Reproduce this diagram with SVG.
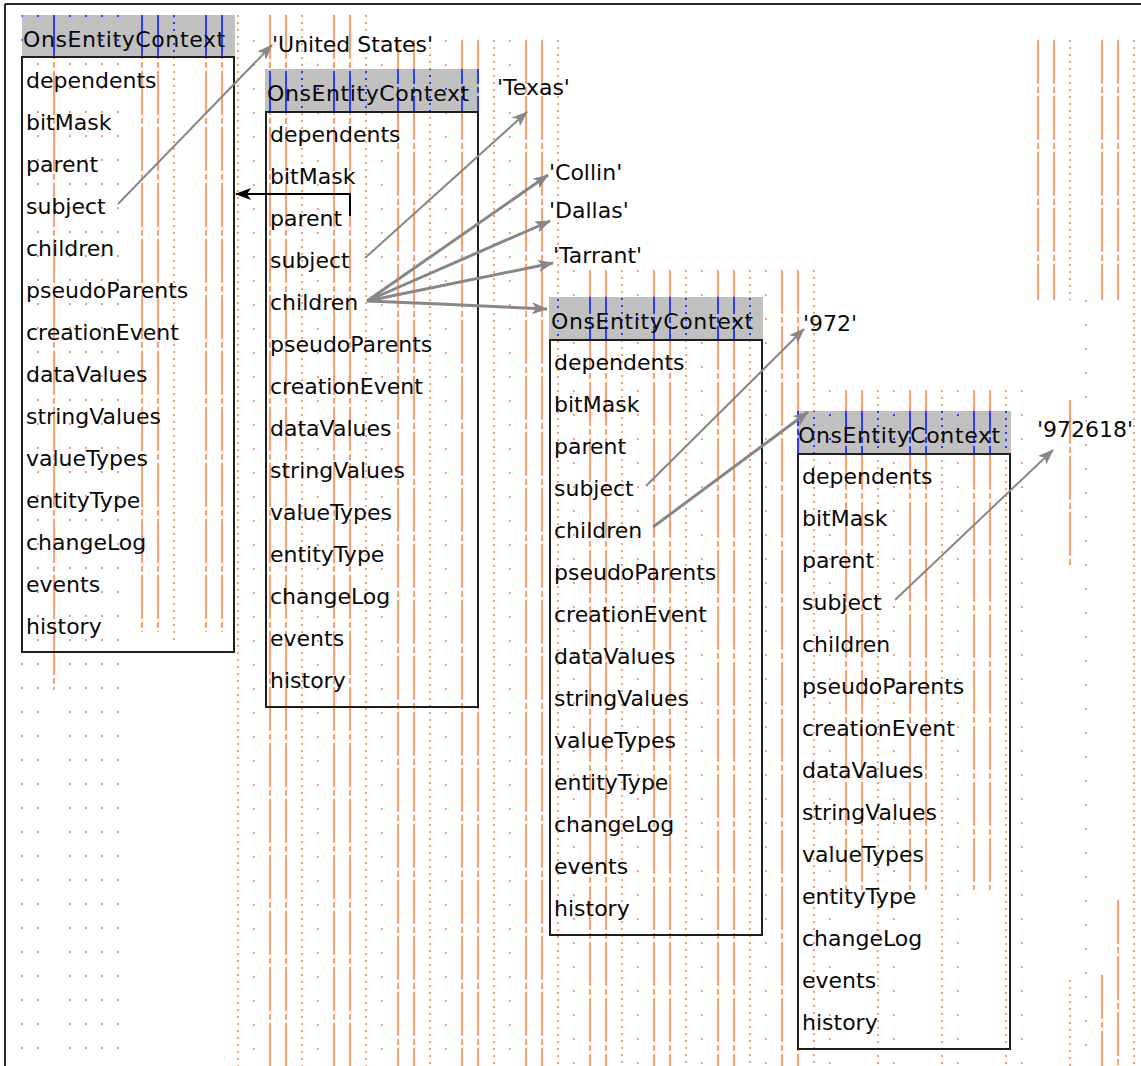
<svg xmlns="http://www.w3.org/2000/svg" width="1141" height="1066" viewBox="0 0 1141 1066">
  <style>
    .hdr{fill:#c0c0c0}
    .body{fill:none;stroke:#1e1e1e;stroke-width:2}
    text{font-family:"DejaVu Sans","Liberation Sans",sans-serif;font-size:22px;fill:#0a0a0a}
    .ttl{letter-spacing:0.6px}
    .ref{fill:none;stroke:#878787;stroke-width:2}
    .ref.thick{stroke-width:3}
    .own{fill:none;stroke:#000;stroke-width:2}
    .frame{fill:none;stroke:#2a2a2a;stroke-width:2}
  </style>
  <defs>
    <!-- backdrop column rules; colour comes from the referencing element -->
    <g id="cols" stroke="currentColor" stroke-width="2" fill="none">
      <g stroke-dasharray="44 3 6 3">
        <line x1="54" y1="15" x2="54" y2="690"/>
        <line x1="142" y1="15" x2="142" y2="632"/>
        <line x1="158" y1="15" x2="158" y2="632"/>
        <line x1="206" y1="15" x2="206" y2="632"/>
        <line x1="222" y1="15" x2="222" y2="632"/>
        <line x1="270" y1="15" x2="270" y2="1066"/>
        <line x1="286" y1="15" x2="286" y2="1066"/>
        <line x1="334" y1="15" x2="334" y2="1066"/>
        <line x1="350" y1="15" x2="350" y2="1066"/>
        <line x1="398" y1="40" x2="398" y2="1066"/>
        <line x1="414" y1="40" x2="414" y2="1066"/>
        <line x1="462" y1="40" x2="462" y2="1066"/>
        <line x1="478" y1="40" x2="478" y2="1066"/>
        <line x1="526" y1="40" x2="526" y2="1066"/>
        <line x1="542" y1="40" x2="542" y2="1066"/>
        <line x1="590" y1="270" x2="590" y2="1066"/>
        <line x1="606" y1="270" x2="606" y2="1066"/>
        <line x1="654" y1="270" x2="654" y2="1066"/>
        <line x1="670" y1="270" x2="670" y2="1066"/>
        <line x1="718" y1="270" x2="718" y2="1066"/>
        <line x1="734" y1="270" x2="734" y2="1066"/>
        <line x1="782" y1="270" x2="782" y2="1066"/>
        <line x1="798" y1="270" x2="798" y2="1066"/>
        <line x1="846" y1="390" x2="846" y2="890"/>
        <line x1="862" y1="390" x2="862" y2="890"/>
        <line x1="910" y1="390" x2="910" y2="890"/>
        <line x1="926" y1="390" x2="926" y2="890"/>
        <line x1="974" y1="390" x2="974" y2="890"/>
        <line x1="990" y1="390" x2="990" y2="890"/>
        <line x1="1038" y1="40" x2="1038" y2="300"/>
        <line x1="1054" y1="40" x2="1054" y2="300"/>
        <line x1="1102" y1="40" x2="1102" y2="300"/>
        <line x1="1118" y1="40" x2="1118" y2="300"/>
        <line x1="1070" y1="400" x2="1070" y2="565"/>
        <line x1="1102" y1="975" x2="1102" y2="1066"/>
        <line x1="1118" y1="900" x2="1118" y2="1066"/>
      </g>
      <g stroke-dasharray="2 5">
        <line x1="174" y1="15" x2="174" y2="640"/>
        <line x1="238" y1="15" x2="238" y2="1066"/>
        <line x1="302" y1="15" x2="302" y2="1066"/>
        <line x1="366" y1="15" x2="366" y2="1066"/>
        <line x1="430" y1="40" x2="430" y2="1066"/>
        <line x1="494" y1="40" x2="494" y2="1066"/>
        <line x1="558" y1="40" x2="558" y2="1066"/>
        <line x1="622" y1="270" x2="622" y2="1066"/>
        <line x1="686" y1="270" x2="686" y2="1066"/>
        <line x1="750" y1="270" x2="750" y2="1066"/>
        <line x1="814" y1="270" x2="814" y2="1066"/>
        <line x1="878" y1="390" x2="878" y2="1066"/>
        <line x1="942" y1="390" x2="942" y2="1066"/>
        <line x1="1006" y1="390" x2="1006" y2="1066"/>
        <line x1="1070" y1="40" x2="1070" y2="300"/>
        <line x1="1070" y1="980" x2="1070" y2="1066"/>
        <line x1="1134" y1="40" x2="1134" y2="1066"/>
      </g>
      <g stroke-dasharray="2 22">
        <line x1="22" y1="15" x2="22" y2="1066"/>
        <line x1="38" y1="15" x2="38" y2="1066"/>
        <line x1="70" y1="15" x2="70" y2="1066"/>
        <line x1="86" y1="15" x2="86" y2="1066"/>
        <line x1="102" y1="15" x2="102" y2="1066"/>
        <line x1="118" y1="15" x2="118" y2="1066"/>
        <line x1="254" y1="40" x2="254" y2="1066"/>
        <line x1="318" y1="40" x2="318" y2="1066"/>
        <line x1="382" y1="40" x2="382" y2="1066"/>
        <line x1="446" y1="40" x2="446" y2="1066"/>
        <line x1="510" y1="40" x2="510" y2="1066"/>
        <line x1="574" y1="270" x2="574" y2="1066"/>
        <line x1="638" y1="270" x2="638" y2="1066"/>
        <line x1="702" y1="270" x2="702" y2="1066"/>
        <line x1="766" y1="270" x2="766" y2="1066"/>
        <line x1="830" y1="390" x2="830" y2="1066"/>
        <line x1="894" y1="390" x2="894" y2="1066"/>
        <line x1="958" y1="390" x2="958" y2="1066"/>
        <line x1="1022" y1="390" x2="1022" y2="1066"/>
        <line x1="1086" y1="300" x2="1086" y2="1066"/>
      </g>
    </g>
    <clipPath id="clip1"><rect x="22" y="15" width="213" height="42"/></clipPath>
    <clipPath id="clip2"><rect x="265" y="69" width="214" height="43"/></clipPath>
    <clipPath id="clip3"><rect x="549" y="297" width="214" height="43"/></clipPath>
    <clipPath id="clip4"><rect x="797" y="411" width="214" height="43"/></clipPath>
    <marker id="ah" viewBox="0 0 16 12" refX="15" refY="6" markerWidth="16" markerHeight="12" markerUnits="userSpaceOnUse" orient="auto">
      <path d="M0,0 L16,6 L0,12 L4,6 z" fill="#878787"/>
    </marker>
    <marker id="ahk" viewBox="0 0 16 12" refX="15" refY="6" markerWidth="16" markerHeight="12" markerUnits="userSpaceOnUse" orient="auto">
      <path d="M0,0 L16,6 L0,12 L4,6 z" fill="#000"/>
    </marker>
  </defs>

  <rect width="1141" height="1066" fill="#fff"/>
  <use href="#cols" color="#ff9d6b"/>

  <g id="frame">
    <line class="frame" x1="5" y1="4" x2="1141" y2="4"/>
    <line class="frame" x1="5" y1="4" x2="5" y2="1066"/>
  </g>

  <g id="ctx1">
    <rect class="hdr" x="22" y="15" width="213" height="42"/>
    <use href="#cols" color="#2a3cff" clip-path="url(#clip1)"/>
    <rect class="body" x="22" y="57" width="212" height="595"/>
    <text class="ttl" x="23" y="47">OnsEntityContext</text>
    <text><tspan x="26" y="88">dependents</tspan><tspan x="26" dy="42">bitMask</tspan><tspan x="26" dy="42">parent</tspan><tspan x="26" dy="42">subject</tspan><tspan x="26" dy="42">children</tspan><tspan x="26" dy="42">pseudoParents</tspan><tspan x="26" dy="42">creationEvent</tspan><tspan x="26" dy="42">dataValues</tspan><tspan x="26" dy="42">stringValues</tspan><tspan x="26" dy="42">valueTypes</tspan><tspan x="26" dy="42">entityType</tspan><tspan x="26" dy="42">changeLog</tspan><tspan x="26" dy="42">events</tspan><tspan x="26" dy="42">history</tspan></text>
  </g>

  <g id="ctx2">
    <rect class="hdr" x="265" y="69" width="214" height="43"/>
    <use href="#cols" color="#2a3cff" clip-path="url(#clip2)"/>
    <rect class="body" x="266" y="112" width="212" height="595"/>
    <text class="ttl" x="267" y="101">OnsEntityContext</text>
    <text><tspan x="270" y="142">dependents</tspan><tspan x="270" dy="42">bitMask</tspan><tspan x="270" dy="42">parent</tspan><tspan x="270" dy="42">subject</tspan><tspan x="270" dy="42">children</tspan><tspan x="270" dy="42">pseudoParents</tspan><tspan x="270" dy="42">creationEvent</tspan><tspan x="270" dy="42">dataValues</tspan><tspan x="270" dy="42">stringValues</tspan><tspan x="270" dy="42">valueTypes</tspan><tspan x="270" dy="42">entityType</tspan><tspan x="270" dy="42">changeLog</tspan><tspan x="270" dy="42">events</tspan><tspan x="270" dy="42">history</tspan></text>
  </g>

  <g id="ctx3">
    <rect class="hdr" x="549" y="297" width="214" height="43"/>
    <use href="#cols" color="#2a3cff" clip-path="url(#clip3)"/>
    <rect class="body" x="550" y="340" width="212" height="595"/>
    <text class="ttl" x="551" y="329">OnsEntityContext</text>
    <text><tspan x="554" y="370">dependents</tspan><tspan x="554" dy="42">bitMask</tspan><tspan x="554" dy="42">parent</tspan><tspan x="554" dy="42">subject</tspan><tspan x="554" dy="42">children</tspan><tspan x="554" dy="42">pseudoParents</tspan><tspan x="554" dy="42">creationEvent</tspan><tspan x="554" dy="42">dataValues</tspan><tspan x="554" dy="42">stringValues</tspan><tspan x="554" dy="42">valueTypes</tspan><tspan x="554" dy="42">entityType</tspan><tspan x="554" dy="42">changeLog</tspan><tspan x="554" dy="42">events</tspan><tspan x="554" dy="42">history</tspan></text>
  </g>

  <g id="ctx4">
    <rect class="hdr" x="797" y="411" width="214" height="43"/>
    <use href="#cols" color="#2a3cff" clip-path="url(#clip4)"/>
    <rect class="body" x="798" y="454" width="212" height="595"/>
    <text class="ttl" x="798" y="443">OnsEntityContext</text>
    <text><tspan x="802" y="484">dependents</tspan><tspan x="802" dy="42">bitMask</tspan><tspan x="802" dy="42">parent</tspan><tspan x="802" dy="42">subject</tspan><tspan x="802" dy="42">children</tspan><tspan x="802" dy="42">pseudoParents</tspan><tspan x="802" dy="42">creationEvent</tspan><tspan x="802" dy="42">dataValues</tspan><tspan x="802" dy="42">stringValues</tspan><tspan x="802" dy="42">valueTypes</tspan><tspan x="802" dy="42">entityType</tspan><tspan x="802" dy="42">changeLog</tspan><tspan x="802" dy="42">events</tspan><tspan x="802" dy="42">history</tspan></text>
  </g>

  <g id="val-united-states"><text x="272" y="52">'United States'</text></g>
  <g id="val-texas"><text x="497" y="95">'Texas'</text></g>
  <g id="val-collin"><text x="549" y="180">'Collin'</text></g>
  <g id="val-dallas"><text x="549" y="218">'Dallas'</text></g>
  <g id="val-tarrant"><text x="553" y="263">'Tarrant'</text></g>
  <g id="val-972"><text x="803" y="331">'972'</text></g>
  <g id="val-972618"><text x="1037" y="437">'972618'</text></g>

  <g id="connectors">
    <line class="ref" x1="118" y1="204" x2="272" y2="45" marker-end="url(#ah)"/>
    <line class="ref" x1="365" y1="258" x2="527" y2="112" marker-end="url(#ah)"/>
    <line class="ref thick" x1="367" y1="301" x2="548" y2="175" marker-end="url(#ah)"/>
    <line class="ref thick" x1="367" y1="301" x2="550" y2="221" marker-end="url(#ah)"/>
    <line class="ref thick" x1="367" y1="301" x2="553" y2="263" marker-end="url(#ah)"/>
    <polyline class="ref thick" points="367,301 440,304 547,309" marker-end="url(#ah)"/>
    <line class="ref" x1="646" y1="486" x2="804" y2="329" marker-end="url(#ah)"/>
    <line class="ref thick" x1="653" y1="527" x2="808" y2="412" marker-end="url(#ah)"/>
    <line class="ref" x1="895" y1="600" x2="1053" y2="450" marker-end="url(#ah)"/>
    <polyline class="own" points="350,216 350,194 236,194" marker-end="url(#ahk)"/>
  </g>
</svg>
